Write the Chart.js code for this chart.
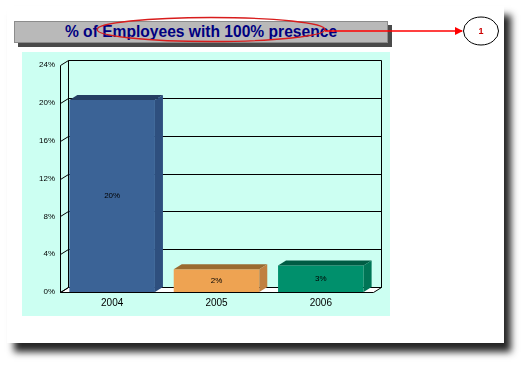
<!DOCTYPE html>
<html>
<head>
<meta charset="utf-8">
<script src="https://cdn.jsdelivr.net/npm/chart.js@4/dist/chart.umd.min.js"></script>
<style>
  body { margin: 0; background: #fff; font-family: "Liberation Sans", Arial, sans-serif; }
  #card {
    position: absolute; left: 7px; top: 6px; width: 497px; height: 337px;
    background: #fff; box-shadow: 7px 9px 7px rgba(0, 0, 0, 0.85);
  }
  #titleShadow {
    position: absolute; left: 18px; top: 25px; width: 374px; height: 22px; background: #4a4a4a;
  }
  #titleBox {
    position: absolute; left: 14px; top: 21px; width: 372px; height: 20px;
    background: #b9b9b9; border: 1px solid #8c8c8c;
    display: flex; align-items: center; justify-content: center;
    color: #000080; font-weight: bold; font-size: 15.6px;
  }
  #chartBox {
    position: absolute; left: 22px; top: 52px; width: 368px; height: 264px; background: #ccfff2;
  }
  #marks { position: absolute; left: 0; top: 0; }
</style>
</head>
<body>
<div id="card"></div>
<div id="titleShadow"></div>
<div id="titleBox">% of Employees with 100% presence</div>
<div id="chartBox"><canvas id="myChart"></canvas></div>
<svg id="marks" width="528" height="367">
  <defs>
    <marker id="head" markerWidth="8" markerHeight="8" refX="7" refY="4" orient="auto" markerUnits="userSpaceOnUse">
      <path d="M0,0 L8,4 L0,8 z" fill="#ff0000"></path>
    </marker>
  </defs>
  <ellipse cx="211" cy="29.5" rx="114" ry="12" fill="none" stroke="#d81c1c" stroke-width="1.3"></ellipse>
  <line x1="325" y1="31" x2="462" y2="31" stroke="#ff0000" stroke-width="1.5" marker-end="url(#head)"></line>
  <ellipse cx="481" cy="31" rx="17.5" ry="14" fill="#fff" stroke="#000" stroke-width="1"></ellipse>
  <text x="481" y="34" text-anchor="middle" font-family="Liberation Sans, Arial" font-size="9" font-weight="bold" fill="#cc0000">1</text>
</svg>

<script>
const years = ["2004", "2005", "2006"];
const presence = [20.3, 2.4, 2.8];
const yTicks = [0, 4, 8, 12, 16, 20, 24];
const frontColors = ["#3b6396", "#eea352", "#00906c"];
const topColors = ["#243e62", "#9a6a30", "#005c44"];
const sideColors = ["#2e4f7e", "#c08040", "#007556"];

// depth of the 3d box
const DX = 8;
const DY = -5;

function line(ctx, x1, y1, x2, y2) {
  ctx.beginPath();
  ctx.moveTo(x1, y1);
  ctx.lineTo(x2, y2);
  ctx.stroke();
}

function poly(ctx, pts, color) {
  ctx.beginPath();
  ctx.moveTo(pts[0][0], pts[0][1]);
  pts.slice(1).forEach((p) => ctx.lineTo(p[0], p[1]));
  ctx.closePath();
  ctx.fillStyle = color;
  ctx.fill();
}

const depthPlugin = {
  id: "depth",
  beforeDatasetsDraw(chart) {
    const ctx = chart.ctx;
    const a = chart.chartArea;
    const y = chart.scales.y;
    const L = Math.round(a.left) + 0.5;
    const R = Math.round(a.right) + 0.5;
    const T = Math.round(a.top) + 0.5;
    const B = Math.round(a.bottom) + 0.5;
    ctx.save();
    ctx.strokeStyle = "#000";
    ctx.lineWidth = 1;

    // floor
    ctx.beginPath();
    ctx.moveTo(L, B);
    ctx.lineTo(R, B);
    ctx.lineTo(R + DX, B + DY);
    ctx.lineTo(L + DX, B + DY);
    ctx.closePath();
    ctx.fillStyle = "#fff";
    ctx.fill();
    ctx.stroke();

    // back wall grid
    yTicks.forEach((v) => {
      const py = Math.round(y.getPixelForValue(v)) + 0.5;
      line(ctx, L, py, L + DX, py + DY);
      line(ctx, L + DX, py + DY, R + DX, py + DY);
    });
    line(ctx, L + DX, T + DY, L + DX, B + DY);
    line(ctx, R + DX, T + DY, R + DX, B + DY);
    line(ctx, L, T, L, B);
    ctx.restore();
  },
  afterDatasetsDraw(chart) {
    const ctx = chart.ctx;
    const meta = chart.getDatasetMeta(0);
    ctx.save();
    meta.data.forEach((bar, i) => {
      const p = bar.getProps(["x", "y", "base", "width"], true);
      const l = p.x - p.width / 2;
      const r = p.x + p.width / 2;
      poly(ctx, [[l, p.y], [r, p.y], [r + DX, p.y + DY], [l + DX, p.y + DY]], topColors[i]);
      poly(ctx, [[r, p.y], [r + DX, p.y + DY], [r + DX, p.base + DY], [r, p.base]], sideColors[i]);
      ctx.fillStyle = "#000";
      ctx.font = "8px 'Liberation Sans', Arial, sans-serif";
      ctx.textAlign = "center";
      ctx.textBaseline = "middle";
      ctx.fillText(Math.round(presence[i]) + "%", p.x, (p.y + p.base) / 2);
    });
    ctx.restore();
  },
};

function createChart() {
  const data = {
    labels: years,
    datasets: [
      {
        label: "% presence",
        data: presence,
        backgroundColor: frontColors,
        borderWidth: 0,
        barPercentage: 0.82,
        categoryPercentage: 1,
      },
    ],
  };

  const config = {
    type: "bar",
    data,
    options: {
      responsive: true,
      maintainAspectRatio: false,
      animation: false,
      layout: { padding: { top: 13, right: 17, left: 0, bottom: 0 } },
      plugins: { legend: { display: false }, tooltip: { enabled: false } },
      scales: {
        x: {
          grid: { display: false, drawTicks: false },
          border: { display: false },
          ticks: {
            color: "#000",
            padding: 5,
            font: { family: "'Liberation Sans', Arial, sans-serif", size: 10 },
          },
          afterFit: (scale) => {
            scale.height = 24;
          },
        },
        y: {
          min: 0,
          max: 24,
          grid: { display: false, drawTicks: false },
          border: { display: false },
          afterBuildTicks: (scale) => {
            scale.ticks = yTicks.map((v) => ({ value: v }));
          },
          ticks: {
            color: "#000",
            padding: 5,
            font: { family: "'Liberation Sans', Arial, sans-serif", size: 8 },
            callback: (v) => v + "%",
          },
          afterFit: (scale) => {
            scale.width = 38;
          },
        },
      },
    },
    plugins: [depthPlugin],
  };
  new Chart(document.getElementById("myChart"), config);
}

document.addEventListener("DOMContentLoaded", () => {
  createChart();
});
</script>
</body>
</html>
